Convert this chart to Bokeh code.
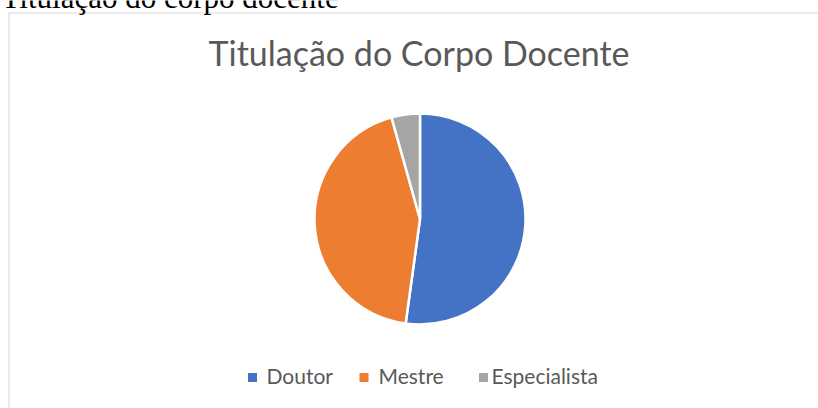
import numpy as np
from bokeh.plotting import figure
from bokeh.models import Range1d, ColumnDataSource
from bokeh.core.properties import value
from bokeh.embed import file_html
from bokeh.resources import INLINE

# ---- data ----
categories = ["Doutor", "Mestre", "Especialista"]
counts = [12, 10, 1]
colors = ["#4472C4", "#ED7D31", "#A5A5A5"]
chart_title = "Titulação do Corpo Docente"
doc_caption = "Titulação do corpo docente"

# ---- layout (page pixels, y down) ----
W, H = 818, 408
cx, cy, r = 419.5, 218.5, 105.5
legend_sq_x = [252, 363.5, 483]
legend_tx_x = [266, 378, 491]
legend_y = 377

def Y(y):
    return H - y

frac = np.array(counts, dtype=float) / sum(counts)
cum = np.concatenate([[0], np.cumsum(frac)])
start = np.pi / 2 - cum[:-1] * 2 * np.pi
end = np.pi / 2 - cum[1:] * 2 * np.pi

p = figure(width=W, height=H, x_range=Range1d(0, W), y_range=Range1d(0, H),
           output_backend="svg", toolbar_location=None,
           x_axis_type=None, y_axis_type=None, min_border=0,
           outline_line_color=None, background_fill_color="white",
           border_fill_color="white", margin=(0, 0, 0, 0))
p.grid.visible = False

# chart area border
p.quad(left=[8.5], right=[W + 20], top=[Y(12.5)], bottom=[-20],
       fill_color=None, line_color="#d9d9d9", line_width=1.2)

# caption above chart (document text)
p.text(x=[1], y=[Y(-3)], text=[doc_caption], text_font=value("Liberation Serif"),
       text_font_size="31px", text_color="black", text_baseline="alphabetic",
       text_align="left")

# chart title
p.text(x=[418.5], y=[Y(52)], text=[chart_title], text_font=value("Lato"),
       text_font_size="34px", text_color="#595959", text_baseline="alphabetic",
       text_align="center")

src = ColumnDataSource(dict(cat=categories, start=start, end=end, color=colors))
p.wedge(x=cx, y=Y(cy), radius=r, start_angle="start", end_angle="end",
        direction="clock", fill_color="color", line_color="white",
        line_width=2.5, source=src)

# legend
p.rect(x=legend_sq_x, y=[Y(legend_y)] * 3, width=9, height=9,
       fill_color=colors, line_color=None)
p.text(x=legend_tx_x, y=[Y(375)] * 3, text=categories,
       text_font=value("Lato"), text_font_size="21px", text_color="#595959",
       text_baseline="alphabetic", text_align="left")

open("out.html", "w").write(file_html(p, INLINE))
